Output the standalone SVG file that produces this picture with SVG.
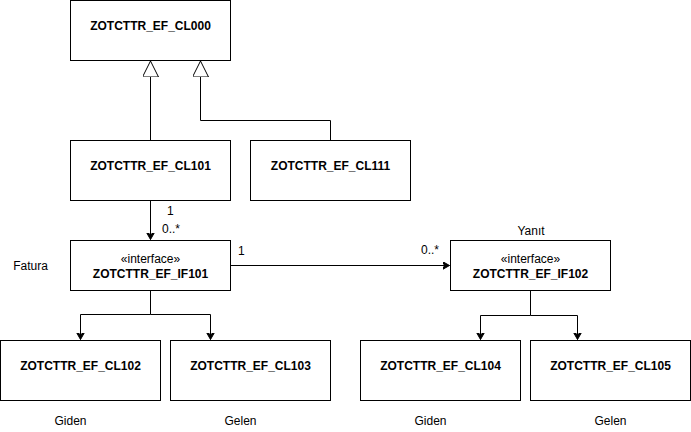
<svg xmlns="http://www.w3.org/2000/svg" width="691" height="432" viewBox="0 0 691 432">
<style>
.box{fill:#ffffff;stroke:#000000;stroke-width:1}
.edge{fill:none;stroke:#000000;stroke-width:1}
.t{font-family:"Liberation Sans",Arial,Helvetica,sans-serif;font-size:12px;fill:#000000}
.b{font-weight:bold}
.m{text-anchor:middle}
</style>
<defs>
<marker id="arr" markerWidth="10" markerHeight="10" refX="7" refY="4" orient="auto" markerUnits="userSpaceOnUse">
<path d="M0,0 L7,4 L0,8 L2,4 Z" fill="#000000" stroke="#000000" stroke-width="1"/>
</marker>
<marker id="gen" markerWidth="20" markerHeight="20" refX="16" refY="8" orient="auto" markerUnits="userSpaceOnUse">
<path d="M0,0 L16,8 L0,16 Z" fill="#ffffff" stroke="#000000" stroke-width="1"/>
</marker>
</defs>
<rect width="691" height="432" fill="#ffffff"/>
<g id="connectors">
<path class="edge" d="M150.5,140 L150.5,61" marker-end="url(#gen)"/>
<path class="edge" d="M330.5,140 L330.5,120.5 L200.5,120.5 L200.5,61" marker-end="url(#gen)"/>
<path class="edge" d="M150.5,200 L150.5,239.5" marker-end="url(#arr)"/>
<path class="edge" d="M230.5,265.5 L449.5,265.5" marker-end="url(#arr)"/>
<path class="edge" d="M150.5,290 L150.5,314.5 L80.5,314.5 L80.5,339.5" marker-end="url(#arr)"/>
<path class="edge" d="M150.5,314.5 L210.5,314.5 L210.5,339.5" marker-end="url(#arr)"/>
<path class="edge" d="M530.5,290 L530.5,315.5 L480.5,315.5 L480.5,339.5" marker-end="url(#arr)"/>
<path class="edge" d="M530.5,315.5 L577.5,315.5 L577.5,339.5" marker-end="url(#arr)"/>
<text class="t" x="167" y="215">1</text>
<text class="t" x="162" y="233">0..*</text>
<text class="t" x="238" y="255">1</text>
<text class="t" x="421" y="254">0..*</text>
</g>
<g id="CL000"><rect class="box" x="70.5" y="0.5" width="160" height="60"/><text class="t b m" x="150.5" y="30">ZOTCTTR_EF_CL000</text></g>
<g id="CL101"><rect class="box" x="70.5" y="140.5" width="160" height="60"/><text class="t b m" x="150.5" y="170">ZOTCTTR_EF_CL101</text></g>
<g id="CL111"><rect class="box" x="250.5" y="140.5" width="160" height="60"/><text class="t b m" x="330.5" y="170">ZOTCTTR_EF_CL111</text></g>
<g id="IF101"><rect class="box" x="70.5" y="240.5" width="160" height="50"/><text class="t m" x="150.5" y="263">«interface»</text><text class="t b m" x="150.5" y="278">ZOTCTTR_EF_IF101</text></g>
<g id="IF102"><rect class="box" x="450.5" y="240.5" width="160" height="50"/><text class="t m" x="530.5" y="263">«interface»</text><text class="t b m" x="530.5" y="278">ZOTCTTR_EF_IF102</text></g>
<g id="CL102"><rect class="box" x="0.5" y="340.5" width="160" height="60"/><text class="t b m" x="80.5" y="370">ZOTCTTR_EF_CL102</text></g>
<g id="CL103"><rect class="box" x="170.5" y="340.5" width="160" height="60"/><text class="t b m" x="250.5" y="370">ZOTCTTR_EF_CL103</text></g>
<g id="CL104"><rect class="box" x="360.5" y="340.5" width="160" height="60"/><text class="t b m" x="440.5" y="370">ZOTCTTR_EF_CL104</text></g>
<g id="CL105"><rect class="box" x="530.5" y="340.5" width="160" height="60"/><text class="t b m" x="610.5" y="370">ZOTCTTR_EF_CL105</text></g>
<g id="labels">
<text class="t m" x="30.5" y="270">Fatura</text>
<text class="t m" x="531" y="235">Yanıt</text>
<text class="t m" x="70.5" y="425">Giden</text>
<text class="t m" x="240.5" y="425">Gelen</text>
<text class="t m" x="430.5" y="425">Giden</text>
<text class="t m" x="610.5" y="425">Gelen</text>
</g>
</svg>
